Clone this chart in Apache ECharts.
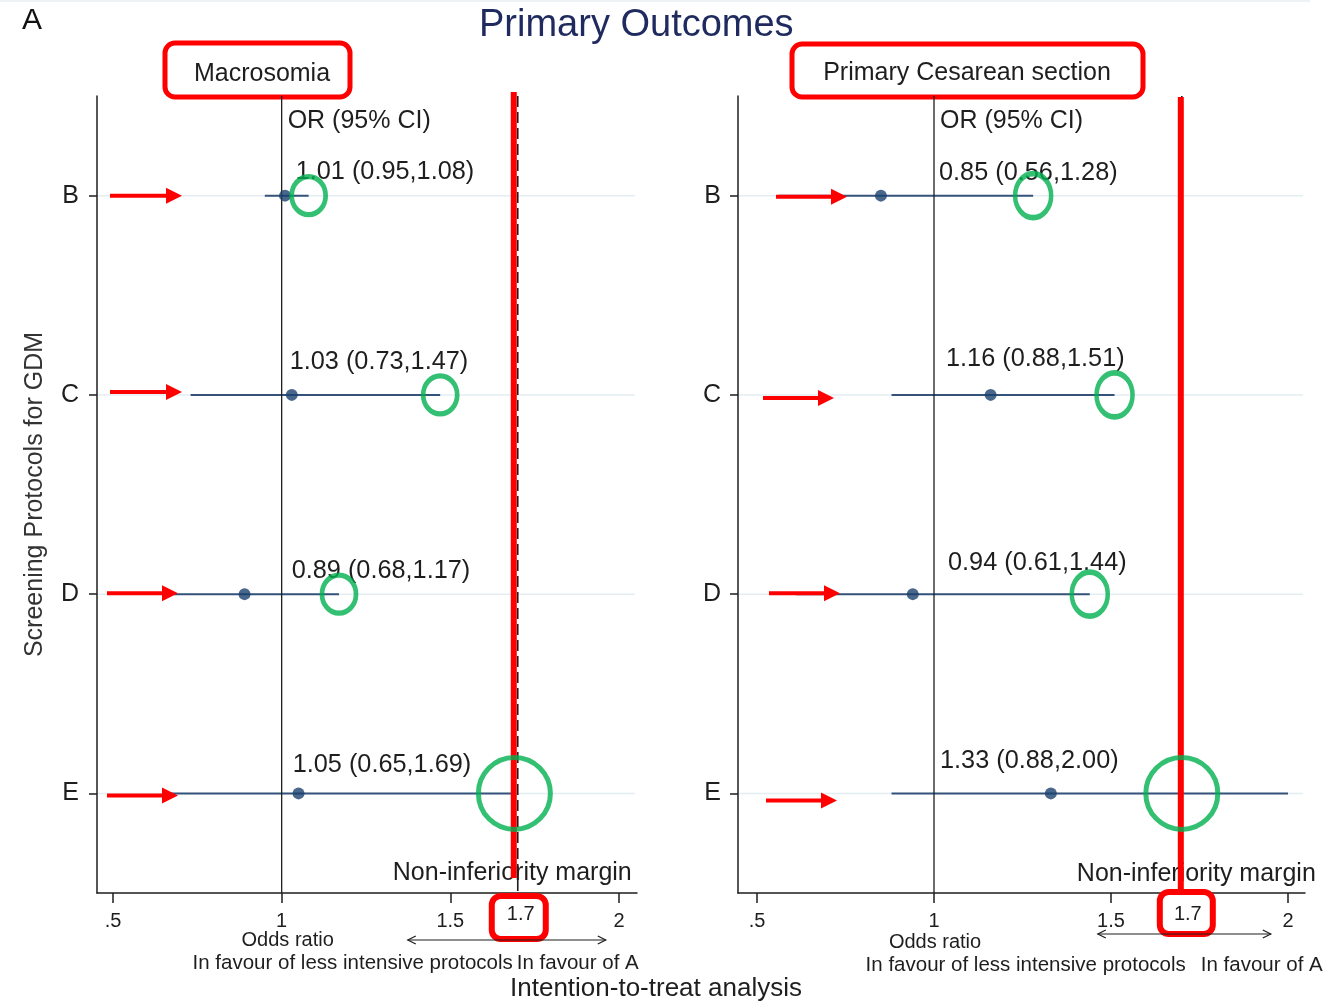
<!DOCTYPE html>
<html>
<head>
<meta charset="utf-8">
<title>Primary Outcomes</title>
<script src="https://cdn.jsdelivr.net/npm/echarts@6/dist/echarts.min.js"></script>
<style>
  html, body { margin: 0; padding: 0; background: #fff; }
  #chart { width: 1344px; height: 1003px; }
</style>
</head>
<body>
<div id="chart"></div>
<script>
// ---- data ----
const rows = ['B', 'C', 'D', 'E'];

const macroOR = [1.01, 1.03, 0.89, 1.05];
const macroLo = [0.95, 0.73, 0.68, 0.65];
const macroHi = [1.08, 1.47, 1.17, 1.69];

const cesOR = [0.85, 1.16, 0.94, 1.33];
const cesLo = [0.56, 0.88, 0.61, 0.88];
const cesHi = [1.28, 1.51, 1.44, 2.00];

const xTicks = [0.5, 1, 1.5, 2];
const marginOR = 1.7;

const panelTitles = ['Macrosomia', 'Primary Cesarean section'];

// ---- styling / layout ----
const FONT = '"Liberation Sans", Arial, Helvetica, sans-serif';
const TEXT = '#1e1e1e';
const RED = '#ff0000';
const GREEN = '#00b050';
const NAVY = '#1a416e';
const CI_COLOR = '#34527a';
const GRID_TOP = 96;
const GRID_H = 797;

const panels = [
  {
    left: 97, width: 540, min: 0.4525, max: 2.0535,
    or: macroOR, lo: macroLo, hi: macroHi,
    labDx: [14, 8, 10, 11], labDy: [-24, -33, -23, -28],
    arrStart: [13, 13, 10, 10], arrEnd: [85, 85, 81, 81], arrDy: [0, -3, -1, 2],
    ring: [34, 38],
    redDx: -4, redTop: -4, redBottom: -15,
    nimDx: -5.5, nimDy: -20,
    box: { dx: 1, top: 3, w: 54, h: 43 }, boxTextDx: 3,
    orDx: 6,
    oddsDx: 6, oddsDy: 47,
    dblArrow: { from: -110, to: 88, dy: 47 },
    lessDx: -5, favADx: -1, favDy: 70,
    yName: 'Screening Protocols for GDM', yLabMargin: 18
  },
  {
    left: 738, width: 567, min: 0.4463, max: 2.048,
    or: cesOR, lo: cesLo, hi: cesHi,
    labDx: [5, 12, 14, 6], labDy: [-23, -36, -31, -32],
    arrStart: [38, 25, 31, 28], arrEnd: [109, 96, 102, 99], arrDy: [1, 3, -1, 7],
    ring: [36, 44],
    redDx: -1, redTop: 1, redBottom: 0,
    nimDx: 14.5, nimDy: -19,
    box: { dx: 4.5, top: -1, w: 53, h: 42 }, boxTextDx: 6,
    orDx: 6,
    oddsDx: 1, oddsDy: 49,
    dblArrow: { from: -84, to: 89, dy: 41 },
    lessDx: 4, favADx: 19, favDy: 72,
    yName: '', yLabMargin: 17
  }
];

function fmt(v) { return v.toFixed(2); }

function textEl(text, x, y, size, align, extra) {
  return Object.assign({
    type: 'text',
    style: {
      text: text, x: x, y: y,
      fill: TEXT, fontSize: size, fontFamily: FONT,
      align: align || 'left', verticalAlign: 'middle',
      textAlign: align || 'left', textVerticalAlign: 'middle'
    }
  }, extra || {});
}

const chart = echarts.init(document.getElementById('chart'), null, { renderer: 'canvas' });

const grids = [], xAxes = [], yAxes = [], series = [];

panels.forEach(function (p, k) {
  grids.push({ left: p.left, top: GRID_TOP, width: p.width, height: GRID_H, containLabel: false });

  xAxes.push({
    gridIndex: k, type: 'value', min: p.min, max: p.max,
    axisLine: { show: true, lineStyle: { color: TEXT, width: 1.5 } },
    axisTick: { show: true, customValues: xTicks, length: 10, lineStyle: { color: TEXT, width: 1.5 } },
    axisLabel: {
      customValues: xTicks, margin: 18, fontSize: 20, color: TEXT, fontFamily: FONT,
      formatter: function (v) { return v === 0.5 ? '.5' : String(v); }
    },
    splitLine: { show: false }
  });

  yAxes.push({
    gridIndex: k, type: 'category', data: rows, inverse: true, boundaryGap: true,
    axisLine: { show: true, lineStyle: { color: TEXT, width: 1.5 } },
    axisTick: { show: true, alignWithLabel: true, length: 8, lineStyle: { color: TEXT, width: 1.5 } },
    axisLabel: { fontSize: 25, color: TEXT, fontFamily: FONT, margin: p.yLabMargin },
    splitLine: { show: false },
    name: p.yName, nameLocation: 'middle', nameRotate: 90, nameGap: 49,
    nameTextStyle: { fontSize: 25, color: '#333333', fontFamily: FONT }
  });

  // reference lines, margin annotation and axis captions
  series.push({
    type: 'custom', xAxisIndex: k, yAxisIndex: k, clip: false, silent: true, z: 3,
    data: [[marginOR, 0]],
    renderItem: function (params, api) {
      const cs = params.coordSys;
      const y0 = cs.y, bottom = cs.y + cs.height;
      const xm = api.coord([marginOR, 0])[0];
      const x1 = api.coord([1, 0])[0];
      const b = p.box;
      const da = p.dblArrow;
      const ay = bottom + da.dy;
      return {
        type: 'group',
        children: [
          { type: 'line', shape: { x1: x1, y1: y0, x2: x1, y2: bottom }, style: { stroke: TEXT, lineWidth: 1.3 } },
          { type: 'line', shape: { x1: xm, y1: y0, x2: xm, y2: bottom }, style: { stroke: TEXT, lineWidth: 1.6, lineDash: [11, 5] } },
          textEl('OR (95% CI)', x1 + p.orDx, 121, 25, 'left'),
          textEl('Non-inferiority margin', xm + p.nimDx, bottom + p.nimDy, 25, 'center'),
          { type: 'line', shape: { x1: xm + p.redDx, y1: y0 + p.redTop, x2: xm + p.redDx, y2: bottom + p.redBottom },
            style: { stroke: RED, lineWidth: 6 } },
          { type: 'rect', shape: { x: xm + b.dx - b.w / 2, y: bottom + b.top, width: b.w, height: b.h, r: 9 },
            style: { fill: '#ffffff', stroke: RED, lineWidth: 6 } },
          textEl(String(marginOR), xm + p.boxTextDx, 914, 20, 'center'),
          textEl('Odds ratio', x1 + p.oddsDx, bottom + p.oddsDy, 20, 'center'),
          { type: 'line', shape: { x1: xm + da.from, y1: ay, x2: xm + da.to, y2: ay }, style: { stroke: TEXT, lineWidth: 1.2 } },
          { type: 'polyline', shape: { points: [[xm + da.from + 8, ay - 4], [xm + da.from, ay], [xm + da.from + 8, ay + 4]] },
            style: { stroke: TEXT, lineWidth: 1.2, fill: null } },
          { type: 'polyline', shape: { points: [[xm + da.to - 8, ay - 4], [xm + da.to, ay], [xm + da.to - 8, ay + 4]] },
            style: { stroke: TEXT, lineWidth: 1.2, fill: null } },
          textEl('In favour of less intensive protocols', xm + p.lessDx, bottom + p.favDy, 20.5, 'right'),
          textEl('In favour of A', xm + p.favADx, bottom + p.favDy, 20.5, 'left')
        ]
      };
    }
  });

  // row gridlines, confidence intervals and estimate labels
  series.push({
    type: 'custom', xAxisIndex: k, yAxisIndex: k, clip: false, silent: true, z: 2,
    data: rows.map(function (r, i) { return [p.lo[i], i, p.hi[i], p.or[i]]; }),
    encode: { x: [0, 2], y: 1 },
    renderItem: function (params, api) {
      const cs = params.coordSys;
      const i = api.value(1);
      const lo = api.value(0), hi = api.value(2), or = api.value(3);
      const y = api.coord([1, i])[1];
      const xl = api.coord([lo, i])[0], xh = api.coord([hi, i])[0], x1 = api.coord([1, i])[0];
      return {
        type: 'group',
        children: [
          { type: 'line', shape: { x1: cs.x + 1, y1: y, x2: cs.x + cs.width - 2, y2: y }, style: { stroke: '#e4eef2', lineWidth: 1.5 } },
          { type: 'line', shape: { x1: xl, y1: y, x2: xh, y2: y }, style: { stroke: CI_COLOR, lineWidth: 2 } },
          textEl(fmt(or) + ' (' + fmt(lo) + ',' + fmt(hi) + ')', x1 + p.labDx[i], y + p.labDy[i], 25.3, 'left')
        ]
      };
    }
  });

  // point estimates
  series.push({
    type: 'scatter', xAxisIndex: k, yAxisIndex: k, silent: true, z: 4,
    symbol: 'circle', symbolSize: 12,
    itemStyle: { color: NAVY },
    data: rows.map(function (r, i) { return [p.or[i], i]; })
  });

  // red pointers at each protocol row
  series.push({
    type: 'custom', xAxisIndex: k, yAxisIndex: k, clip: false, silent: true, z: 5,
    data: rows.map(function (r, i) { return [p.min, i]; }),
    renderItem: function (params, api) {
      const cs = params.coordSys;
      const i = api.value(1);
      const y = api.coord([1, i])[1] + p.arrDy[i];
      const xs = cs.x + p.arrStart[i], xe = cs.x + p.arrEnd[i];
      return {
        type: 'group',
        children: [
          { type: 'line', shape: { x1: xs, y1: y, x2: xe - 14, y2: y }, style: { stroke: RED, lineWidth: 4 } },
          { type: 'polygon', shape: { points: [[xe - 16, y - 8], [xe, y], [xe - 16, y + 8]] }, style: { fill: RED } }
        ]
      };
    }
  });

  // green rings on the upper bounds (capped at the margin)
  series.push({
    type: 'scatter', xAxisIndex: k, yAxisIndex: k, silent: true, z: 6,
    symbol: 'circle',
    symbolSize: function (val, params) { return params.dataIndex === rows.length - 1 ? [72, 72] : p.ring; },
    itemStyle: { color: 'rgba(0,0,0,0)', borderColor: GREEN, borderWidth: 5 },
    data: rows.map(function (r, i) { return [Math.min(p.hi[i], marginOR), i]; })
  });
});

chart.setOption({
  animation: false,
  backgroundColor: '#ffffff',
  title: {
    text: 'Primary Outcomes', left: 474, top: 2,
    textStyle: { fontSize: 38, fontWeight: 'normal', color: '#1f2a5e', fontFamily: FONT }
  },
  grid: grids,
  xAxis: xAxes,
  yAxis: yAxes,
  series: series,
  graphic: [
    { type: 'line', shape: { x1: 0, y1: 1, x2: 1310, y2: 1 }, style: { stroke: '#eef2f4', lineWidth: 2 }, silent: true },
    { type: 'text', left: 22, top: 6, style: { text: 'A', fontSize: 30, fontFamily: FONT, fill: '#111' } },
    { type: 'rect', shape: { x: 165, y: 43, width: 185, height: 54, r: 10 }, style: { fill: '#fff', stroke: RED, lineWidth: 5 } },
    { type: 'text', x: 262, y: 74, style: { text: panelTitles[0], fontSize: 25, fontFamily: FONT, fill: TEXT, align: 'center', verticalAlign: 'middle', textAlign: 'center', textVerticalAlign: 'middle' } },
    { type: 'rect', shape: { x: 792, y: 44, width: 351, height: 53, r: 10 }, style: { fill: '#fff', stroke: RED, lineWidth: 5 } },
    { type: 'text', x: 967, y: 73, style: { text: panelTitles[1], fontSize: 25, fontFamily: FONT, fill: TEXT, align: 'center', verticalAlign: 'middle', textAlign: 'center', textVerticalAlign: 'middle' } },
    { type: 'text', x: 656, y: 989, style: { text: 'Intention-to-treat analysis', fontSize: 26, fontFamily: FONT, fill: TEXT, align: 'center', verticalAlign: 'middle', textAlign: 'center', textVerticalAlign: 'middle' } }
  ]
});
</script>
</body>
</html>
